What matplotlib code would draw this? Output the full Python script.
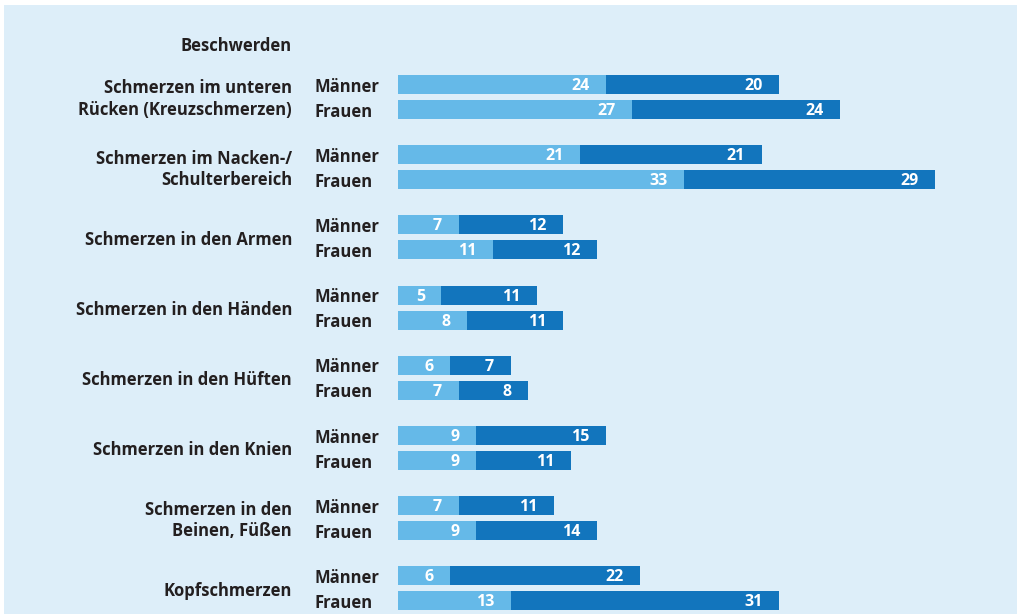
import matplotlib.pyplot as plt
from matplotlib.patches import Rectangle
from matplotlib.transforms import blended_transform_factory

plt.rcParams['font.family'] = ['Open Sans', 'DejaVu Sans']

beschwerden = [
    'Schmerzen im unteren\nRücken (Kreuzschmerzen)',
    'Schmerzen im Nacken-/\nSchulterbereich',
    'Schmerzen in den Armen',
    'Schmerzen in den Händen',
    'Schmerzen in den Hüften',
    'Schmerzen in den Knien',
    'Schmerzen in den\nBeinen, Füßen',
    'Kopfschmerzen',
]
maenner_hell = [24, 21, 7, 5, 6, 9, 7, 6]
maenner_dunkel = [20, 21, 12, 11, 7, 15, 11, 22]
frauen_hell = [27, 33, 11, 8, 7, 9, 9, 13]
frauen_dunkel = [24, 29, 12, 11, 8, 11, 14, 31]

HELL = '#65b9e8'
DUNKEL = '#1275bd'
PANEL = '#ddeef9'
TEXT = '#231f20'

W, H = 1017, 614
fig = plt.figure(figsize=(W / 100, H / 100), dpi=100, facecolor='white')
fig.patches.append(Rectangle((4 / W, 0), 1, 1 - 5 / H, transform=fig.transFigure,
                             facecolor=PANEL, edgecolor='none', zorder=-10))

px_per_unit = 8.66
ax = fig.add_axes([398 / W, 0, 1 - 398 / W, 1])
ax.set_zorder(1)
ax.set_xlim(0, (W - 398) / px_per_unit)
step = 70.2
ax.set_ylim((H - 84.5) / step, -84.5 / step)
ax.axis('off')

off = 25 / step
bh = 19 / step
ym = list(range(len(beschwerden)))
yf = [y + off for y in ym]

ax.barh(ym, maenner_hell, height=bh, color=HELL)
ax.barh(ym, maenner_dunkel, left=maenner_hell, height=bh, color=DUNKEL)
ax.barh(yf, frauen_hell, height=bh, color=HELL)
ax.barh(yf, frauen_dunkel, left=frauen_hell, height=bh, color=DUNKEL)

pad = 1.9
for ys, hell, dunkel in [(ym, maenner_hell, maenner_dunkel), (yf, frauen_hell, frauen_dunkel)]:
    for y, a, b in zip(ys, hell, dunkel):
        ax.text(a - pad, y + 0.02, str(a), ha='right', va='center', color='white',
                fontsize=11.5, fontweight='bold')
        ax.text(a + b - pad, y + 0.02, str(b), ha='right', va='center', color='white',
                fontsize=11.5, fontweight='bold')

tr = blended_transform_factory(fig.transFigure, ax.transData)
for y, name in zip(ym, beschwerden):
    ax.text(292 / W, y + off / 2 + 0.03, name, transform=tr, ha='right', va='center',
            fontsize=12, fontweight='bold', color=TEXT, linespacing=1.25)
    ax.text(315 / W, y + 0.03, 'Männer', transform=tr, ha='left', va='center',
            fontsize=12, fontweight='bold', color=TEXT)
    ax.text(315 / W, y + off + 0.03, 'Frauen', transform=tr, ha='left', va='center',
            fontsize=12, fontweight='bold', color=TEXT)

fig.text(292 / W, 1 - 46 / H, 'Beschwerden', ha='right', va='center',
         fontsize=12, fontweight='bold', color=TEXT)

fig.savefig('out.png', dpi=100, facecolor='white')
